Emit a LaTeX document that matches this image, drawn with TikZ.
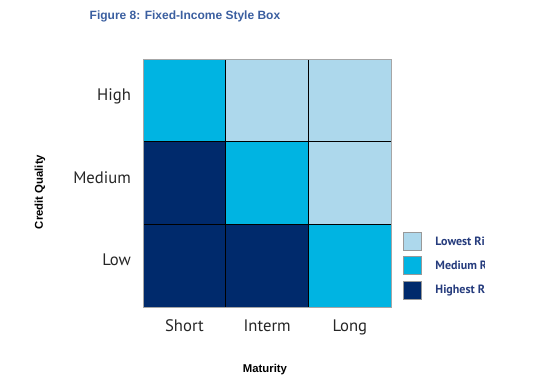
\documentclass[tikz,border=0pt]{standalone}
\usepackage{fontspec}
\setmainfont{Liberation Sans}
\newfontfamily\catfont{PT Sans}
\usetikzlibrary{positioning}

\definecolor{lowrisk}{RGB}{173,216,236}
\definecolor{medrisk}{RGB}{0,180,226}
\definecolor{highrisk}{RGB}{0,42,108}
\definecolor{titleblue}{RGB}{59,95,160}
\definecolor{keytext}{RGB}{38,60,125}

\begin{document}
\begin{tikzpicture}[
    x=0.75pt, y=-0.75pt,
    cell/.style={rectangle, draw=black, line width=0.8pt, minimum size=62pt, inner sep=0pt, outer sep=0pt},
    keybox/.style={rectangle, draw=gray!80, line width=0.6pt, minimum size=13.5pt, inner sep=0pt},
    catlabel/.style={font=\catfont\fontsize{12.5}{14}\selectfont, text=black!85, inner sep=0pt},
    keylabel/.style={font=\catfont\bfseries\fontsize{9}{11}\selectfont, text=keytext, anchor=west},
    axislabel/.style={font=\bfseries\fontsize{8.5}{10}\selectfont},
    node distance=0pt
]
    \useasboundingbox (0,0) rectangle (536,384);
    \clip (0,0) rectangle (536,384);

    % Title
    \node[font=\bfseries\fontsize{9}{11}\selectfont, text=titleblue, anchor=west] (title) at (85,16) {Figure 8: Fixed-Income Style Box};

    % Style box grid (rows: credit quality, columns: maturity)
    \node[cell, fill=medrisk] (hs) at (184.5,100.5) {};
    \node[cell, fill=lowrisk, right=of hs] (hi) {};
    \node[cell, fill=lowrisk, right=of hi] (hl) {};
    \node[cell, fill=highrisk, below=of hs] (ms) {};
    \node[cell, fill=medrisk, right=of ms] (mi) {};
    \node[cell, fill=lowrisk, right=of mi] (ml) {};
    \node[cell, fill=highrisk, below=of ms] (ls) {};
    \node[cell, fill=highrisk, right=of ls] (li) {};
    \node[cell, fill=medrisk, right=of li] (ll) {};
    \draw[gray!70, line width=0.8pt] (hs.north west) rectangle (ll.south east);

    % Row labels
    \node[catlabel, anchor=base east] (high) at ([xshift=-9pt]hs.west) {High};
    \node[catlabel, anchor=base east] (medium) at ([xshift=-9pt]ms.west) {Medium};
    \node[catlabel, anchor=base east] (low) at ([xshift=-9pt]ls.west) {Low};

    % Column labels
    \node[catlabel, anchor=base] (short) at ([yshift=-18pt]ls.south) {Short};
    \node[catlabel, anchor=base] (interm) at ([yshift=-18pt]li.south) {Interm};
    \node[catlabel, anchor=base] (long) at ([yshift=-18pt]ll.south) {Long};

    % Axis titles
    \node[axislabel] (maturity) at (265,370) {Maturity};
    \node[axislabel, rotate=90] (quality) at (40,192) {Credit Quality};

    % Legend
    \node[keybox, fill=lowrisk] (k1) at (412,241) {};
    \node[keybox, fill=medrisk, below=4.5pt of k1] (k2) {};
    \node[keybox, fill=highrisk, below=4.5pt of k2] (k3) {};
    \begin{scope}
        \clip (425,225) rectangle (484,305);
        \node[keylabel, right=7pt of k1] (lowest) {Lowest Risk};
        \node[keylabel, right=7pt of k2] (medium) {Medium Risk};
        \node[keylabel, right=7pt of k3] (highest) {Highest Risk};
    \end{scope}

\end{tikzpicture}
\end{document}
